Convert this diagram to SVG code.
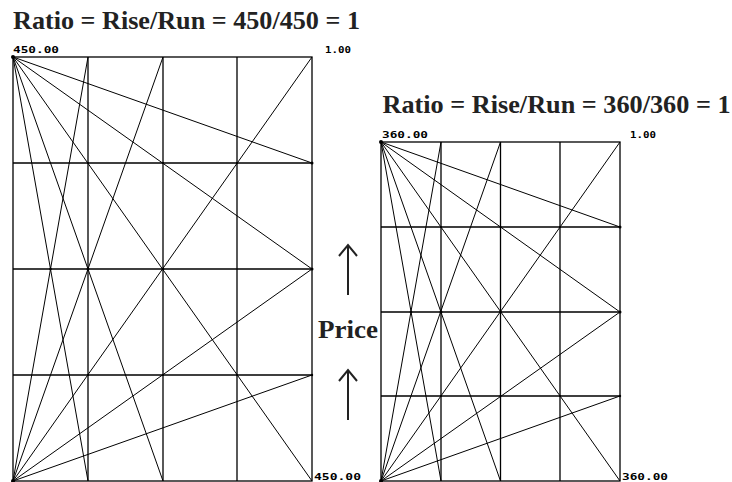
<svg xmlns="http://www.w3.org/2000/svg" width="732" height="482" viewBox="0 0 732 482">
<style>
.title{font-family:"Liberation Serif","Times New Roman",serif;font-weight:bold;font-size:26px;fill:#222}
.lbl{font-family:"DejaVu Sans Mono","Liberation Mono",monospace;font-weight:bold;font-size:9px;fill:#000}
.grid{stroke:#000;stroke-width:1.3;fill:none}
.fan{stroke:#000;stroke-width:1;fill:none}
.arrow{stroke:#222;stroke-width:2;fill:none}
.dot{fill:#000}
</style>
<rect width="732" height="482" fill="#fff"/>
<g id="title-left"><text class="title" x="13" y="29" textLength="347" lengthAdjust="spacingAndGlyphs">Ratio = Rise/Run = 450/450 = 1</text></g>
<g id="title-right"><text class="title" x="382.5" y="113" textLength="348" lengthAdjust="spacingAndGlyphs">Ratio = Rise/Run = 360/360 = 1</text></g>

<g id="chart-left">
<g class="grid">
<rect x="13" y="57" width="299" height="424"/>
<path d="M88 57V481M163 57V481M237 57V481M13 163H312M13 269H312M13 375H312"/>
</g>
<g class="fan">
<path d="M13 57L88 481M13 57L163 481M13 57L312 481M13 57L312 269M13 57L312 163"/>
<path d="M13 481L88 57M13 481L163 57M13 481L312 57M13 481L312 269M13 481L312 375"/>
</g>
<g class="dot">
<circle cx="13" cy="57" r="2"/><circle cx="13" cy="481" r="2"/>
<circle cx="312" cy="163" r="1.5"/><circle cx="312" cy="269" r="1.5"/><circle cx="312" cy="375" r="1.2"/>
<circle cx="88" cy="269" r="1.5"/><circle cx="50.5" cy="269" r="1.3"/><circle cx="163" cy="269" r="1.3"/>
<circle cx="88" cy="163" r="1"/><circle cx="88" cy="375" r="1"/><circle cx="163" cy="163" r="1"/><circle cx="163" cy="375" r="1"/><circle cx="237" cy="163" r="1"/><circle cx="237" cy="375" r="1"/>
</g>
<text class="lbl" x="13" y="53" textLength="46" lengthAdjust="spacingAndGlyphs">450.00</text>
<text class="lbl" x="325" y="53" textLength="26" lengthAdjust="spacingAndGlyphs">1.00</text>
<text class="lbl" x="314" y="480" textLength="47" lengthAdjust="spacingAndGlyphs">450.00</text>
</g>

<g id="chart-right">
<g class="grid">
<rect x="381" y="142" width="239" height="339"/>
<path d="M441 142V481M500.5 142V481M560 142V481M381 227H620M381 312H620M381 396H620"/>
</g>
<g class="fan">
<path d="M381 142L441 481M381 142L500.5 481M381 142L620 481M381 142L620 312M381 142L620 227"/>
<path d="M381 481L441 142M381 481L500.5 142M381 481L620 142M381 481L620 312M381 481L620 396"/>
</g>
<g class="dot">
<circle cx="381" cy="142" r="2"/><circle cx="381" cy="481" r="2"/>
<circle cx="620" cy="227" r="1.5"/><circle cx="620" cy="312" r="1.5"/><circle cx="620" cy="396" r="1.2"/>
<circle cx="441" cy="312" r="1.5"/><circle cx="411" cy="312" r="1.3"/><circle cx="500.5" cy="312" r="1.3"/>
<circle cx="441" cy="227" r="1"/><circle cx="441" cy="396" r="1"/><circle cx="500.5" cy="227" r="1"/><circle cx="500.5" cy="396" r="1"/><circle cx="560" cy="227" r="1"/><circle cx="560" cy="396" r="1"/>
</g>
<text class="lbl" x="382" y="138" textLength="46" lengthAdjust="spacingAndGlyphs">360.00</text>
<text class="lbl" x="630" y="138" textLength="26" lengthAdjust="spacingAndGlyphs">1.00</text>
<text class="lbl" x="622" y="480" textLength="46" lengthAdjust="spacingAndGlyphs">360.00</text>
</g>

<g id="price-axis">
<path class="arrow" d="M348 295V246M339 256L348 245L357 256"/>
<path class="arrow" d="M348 420V371M339 381L348 370L357 381"/>
<text class="title" x="318" y="338" textLength="60" lengthAdjust="spacingAndGlyphs">Price</text>
</g>
</svg>
